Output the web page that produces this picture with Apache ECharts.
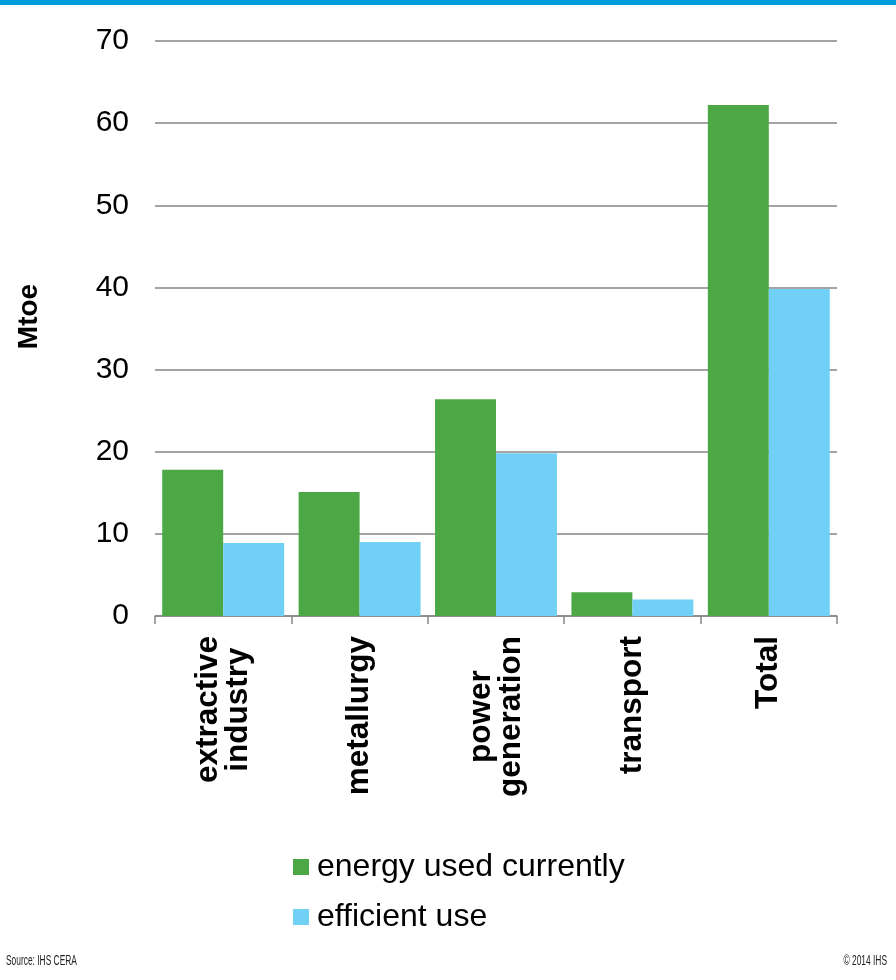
<!DOCTYPE html>
<html>
<head>
<meta charset="utf-8">
<title>Energy use by sector</title>
<script src="https://cdn.jsdelivr.net/npm/echarts@6/dist/echarts.min.js"></script>
<style>
  html, body { margin: 0; padding: 0; background: #ffffff; }
  #chart { width: 896px; height: 980px; }
</style>
</head>
<body>
<div id="chart"></div>
<script>
// Sectors on the x axis (multi-line labels)
const categories = ['extractive\nindustry', 'metallurgy', 'power\ngeneration', 'transport', 'Total'];
// Energy consumption, Mtoe
const energyUsedCurrently = [17.8, 15.1, 26.4, 2.9, 62.2];
const efficientUse = [8.9, 9.0, 19.8, 2.0, 39.8];
// Value axis ticks
const yTicks = [0, 10, 20, 30, 40, 50, 60, 70];
const seriesNames = ['energy used currently', 'efficient use'];

const FONT = '"Liberation Sans", Arial, Helvetica, sans-serif';
const NARROW = '"Liberation Sans Narrow", ' + FONT;
const GREEN = '#4BA844';
const BLUE = '#71D0F6';
const GRID_GRAY = '#868686';

const chart = echarts.init(document.getElementById('chart'), null, { renderer: 'canvas' });

chart.setOption({
  backgroundColor: '#ffffff',
  animation: false,
  textStyle: { fontFamily: FONT },
  graphic: [
    { type: 'rect', left: 0, top: 0, shape: { x: 0, y: 0, width: 896, height: 5 }, style: { fill: '#009DDC' } },
    { type: 'text', x: 6, y: 954, scaleX: 0.6,
      style: { text: 'Source: IHS CERA', fontFamily: NARROW, fontSize: 14, fill: '#222', align: 'left', verticalAlign: 'top' } },
    { type: 'text', x: 887, y: 954, scaleX: 0.6,
      style: { text: '\u00A9 2014 IHS', fontFamily: NARROW, fontSize: 14, fill: '#222', align: 'right', verticalAlign: 'top' } }
  ],
  grid: { left: 155, right: 59, top: 41, bottom: 364, containLabel: false },
  legend: {
    orient: 'vertical',
    left: 288,
    top: 845,
    icon: 'rect',
    itemWidth: 16,
    itemHeight: 16,
    itemGap: 16,
    data: seriesNames,
    textStyle: { fontFamily: FONT, fontSize: 32, color: '#000', lineHeight: 34, padding: [0, 0, 0, 3] }
  },
  xAxis: {
    type: 'category',
    data: categories,
    axisLine: { show: true, lineStyle: { color: GRID_GRAY, width: 1.5 } },
    axisTick: { show: true, length: 8, lineStyle: { color: GRID_GRAY, width: 1.5 } },
    axisLabel: {
      interval: 0,
      rotate: 90,
      margin: 20,
      color: '#000',
      fontFamily: FONT,
      fontSize: 31.5,
      fontWeight: 'bold',
      lineHeight: 30,
      formatter: function (v) {
        return v.split('\n').map(function (s) { return '{c|' + s + '}'; }).join('\n');
      },
      rich: {
        c: { align: 'center', fontFamily: FONT, fontSize: 31.5, fontWeight: 'bold', lineHeight: 30, color: '#000' }
      }
    }
  },
  yAxis: {
    type: 'value',
    min: yTicks[0],
    max: yTicks[yTicks.length - 1],
    interval: yTicks[1] - yTicks[0],
    name: 'Mtoe',
    nameLocation: 'middle',
    nameRotate: 90,
    nameGap: 112,
    nameTextStyle: { fontFamily: FONT, fontSize: 28, fontWeight: 'bold', color: '#000', padding: [0, 0, 0, 24] },
    axisLine: { show: false },
    axisTick: { show: false },
    axisLabel: { margin: 26, color: '#000', fontFamily: FONT, fontSize: 30 },
    splitLine: { show: true, lineStyle: { color: GRID_GRAY, width: 1.5 } }
  },
  series: [
    {
      name: seriesNames[0],
      type: 'bar',
      data: energyUsedCurrently,
      itemStyle: { color: GREEN },
      barGap: '0%',
      barCategoryGap: '10.6%'
    },
    {
      name: seriesNames[1],
      type: 'bar',
      data: efficientUse,
      itemStyle: { color: BLUE },
      barGap: '0%',
      barCategoryGap: '10.6%'
    }
  ]
});
</script>
</body>
</html>
